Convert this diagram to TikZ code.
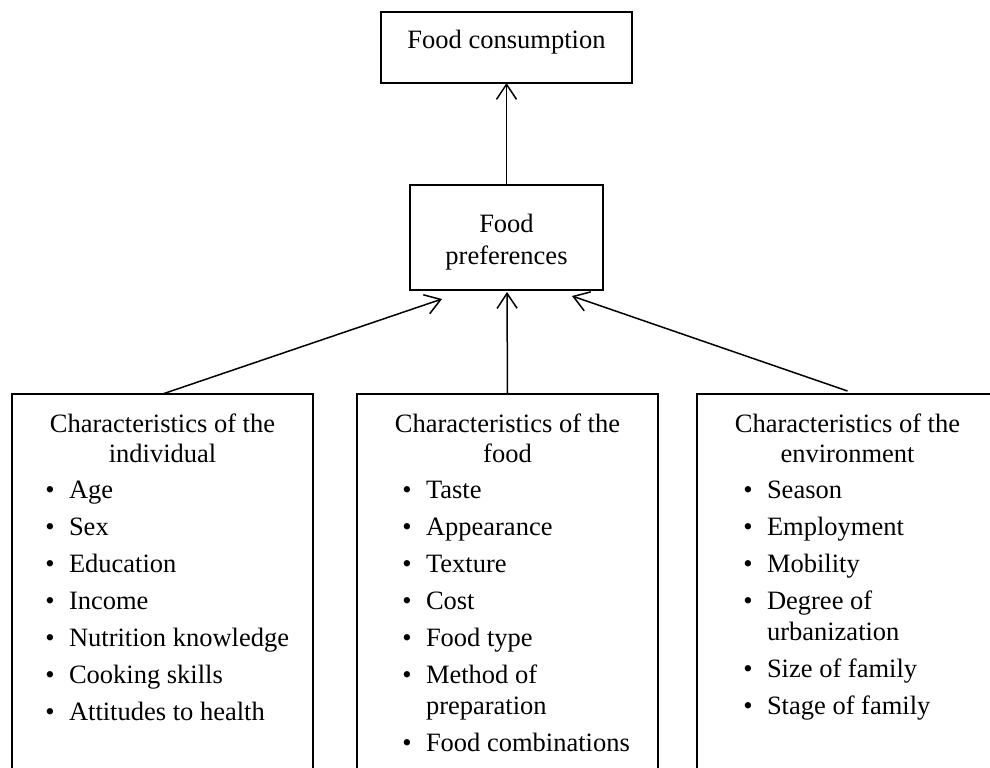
\documentclass[tikz,border=0pt]{standalone}
\usepackage{fontspec}
\setmainfont{Liberation Serif}
\usetikzlibrary{arrows.meta}
\begin{document}
\begin{tikzpicture}[x=0.5pt,y=-0.5pt,
  frame/.style={draw, line width=1.3pt, inner sep=0pt, outer sep=0pt},
  col/.style={frame, anchor=north west, minimum width=150.5pt, minimum height=200pt},
  txt/.style={inner sep=0pt, outer sep=0pt, anchor=base, font=\fontsize{13.25}{16}\selectfont},
  itxt/.style={txt, anchor=base west},
  link/.style={line width=0.75pt, -{Straight Barb[length=7.5pt,width=10pt,line width=0.75pt]}}
]
\useasboundingbox (0,0) rectangle (990,767);
\begin{scope}
  \clip (0,0) rectangle (990,767);
  % outcome and mediator boxes
  \node[frame, minimum width=125.5pt, minimum height=35.5pt] (cons) at (506.5,47.5) {};
  \node[frame, minimum width=96.5pt, minimum height=52.5pt] (pref) at (506.5,237.5) {};
  % three open-bottomed columns of determinants
  \node[col] (indiv) at (12,394) {};
  \node[col] (food) at (357,394) {};
  \node[col] (env) at (697,394) {};
\end{scope}

% box titles
\node[txt] (tcons) at (506.5,48) {Food consumption};
\node[txt] (tpref1) at (506.5,232) {Food};
\node[txt] (tpref2) at (506.5,264) {preferences};
\node[txt] (ti1) at (162.5,432) {Characteristics of the};
\node[txt] (ti2) at (162.5,462) {individual};
\node[txt] (tf1) at (507.5,432) {Characteristics of the};
\node[txt] (tf2) at (507.5,462) {food};
\node[txt] (te1) at (847.5,432) {Characteristics of the};
\node[txt] (te2) at (847.5,462) {environment};

% individual
\foreach \t [count=\i] in {Age,Sex,Education,Income,Nutrition knowledge,Cooking skills,Attitudes to health}{
  \node[txt] (ib\i) at (50,{498+37*(\i-1)}) {•};
  \node[itxt] (it\i) at (69,{498+37*(\i-1)}) {\t};
}

% food
\foreach \t [count=\i] in {Taste,Appearance,Texture,Cost,Food type,Method of}{
  \node[txt] (fb\i) at (407,{498+37*(\i-1)}) {•};
  \node[itxt] (ft\i) at (426,{498+37*(\i-1)}) {\t};
}
\node[itxt] (ft6b) at (426,714) {preparation};
\node[txt] (fb7) at (407,751) {•};
\node[itxt] (ft7) at (426,751) {Food combinations};

% environment
\foreach \t [count=\i] in {Season,Employment,Mobility,Degree of}{
  \node[txt] (eb\i) at (748,{498+37*(\i-1)}) {•};
  \node[itxt] (et\i) at (767,{498+37*(\i-1)}) {\t};
}
\node[itxt] (et4b) at (767,640) {urbanization};
\node[txt] (eb5) at (748,677) {•};
\node[itxt] (et5) at (767,677) {Size of family};
\node[txt] (eb6) at (748,714) {•};
\node[itxt] (et6) at (767,714) {Stage of family};

% arrow tips below the preferences box
\coordinate (pl) at (442,299);
\coordinate (pm) at (507,292);
\coordinate (pr) at (572,296);

\draw[link] (pref.north) -- (cons.south);
\draw[link] (indiv.north) -- (pl);
\draw[link] (food.north) -- (pm);
\draw[link] ([yshift=1.5pt]env.north) -- (pr);
\end{tikzpicture}
\end{document}
